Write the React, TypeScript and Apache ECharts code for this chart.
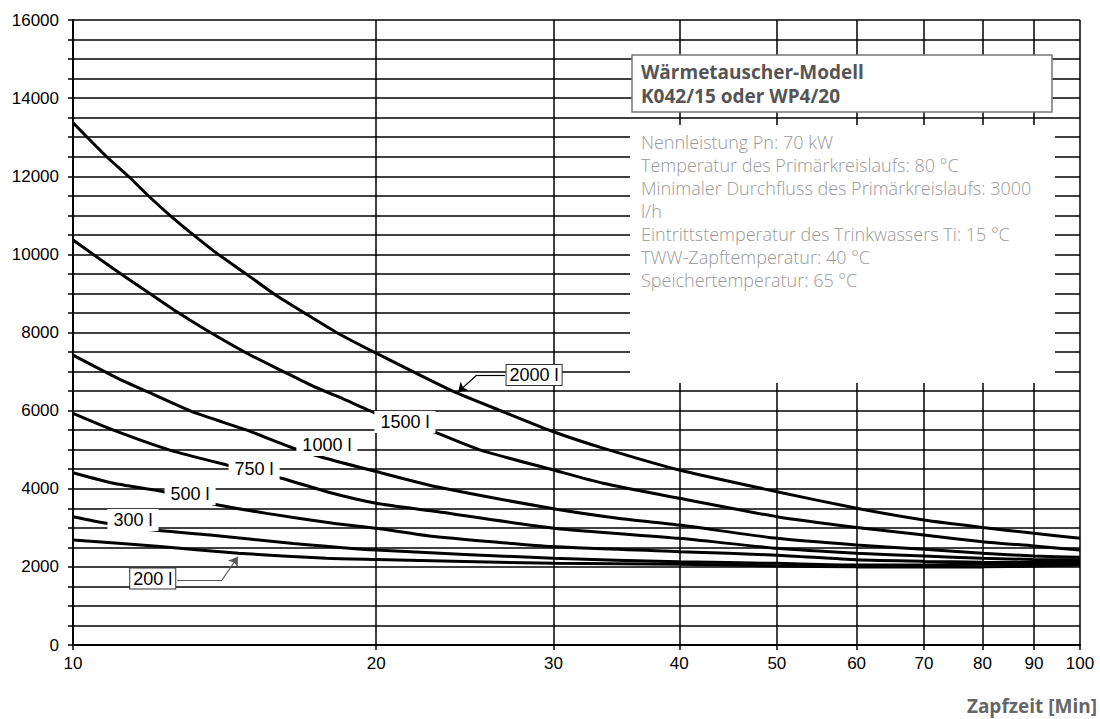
import React, { useEffect, useRef } from "react";
import * as echarts from "echarts";

// ---- data ----
const xTicks = [10, 20, 30, 40, 50, 60, 70, 80, 90, 100];
const yMin = 0;
const yMax = 16000;

const curve2000 = [[10,13370],[10.8,12500],[11.35,12000],[11.88,11500],[12.48,11000],[13.17,10500],[13.94,10000],[14.82,9520],[15.81,9000],[17,8490],[18.27,8000],[20,7470],[23.86,6490],[26.75,5970],[30,5460],[33.6,5040],[40,4480],[50,3925],[60,3500],[70,3200],[80,3010],[90,2860],[100,2730]];
const curve1500 = [[10,10370],[10.97,9630],[11.84,9050],[12.68,8530],[13.47,8110],[14.88,7470],[16.18,7000],[17.33,6620],[18.55,6300],[20,5930],[22.6,5500],[25.4,4990],[30,4480],[33.6,4140],[40,3755],[50,3285],[60,3010],[70,2815],[80,2645],[90,2535],[100,2430]];
const curve1000 = [[10,7420],[11.13,6800],[11.84,6490],[13.17,5960],[14.88,5500],[16.55,5040],[17.6,4820],[20,4440],[22.96,4050],[30,3490],[34.9,3240],[40,3070],[50,2730],[60,2560],[70,2450],[80,2350],[90,2280],[100,2245]];
const curve750 = [[10,5930],[10.97,5500],[12.48,4990],[14.21,4610],[16.11,4270],[17.86,3925],[20,3630],[22.96,3415],[30,2990],[40,2730],[50,2475],[60,2350],[70,2280],[80,2220],[90,2190],[100,2180]];
const curve500 = [[10,4410],[10.97,4140],[12.29,3925],[13.78,3610],[15.57,3370],[18.13,3115],[20,2990],[22.96,2770],[30,2520],[40,2390],[50,2300],[60,2180],[70,2140],[80,2120],[90,2110],[100,2110]];
const curve300 = [[10,3285],[10.8,3115],[11.75,2970],[13.68,2815],[16.55,2600],[20,2430],[30,2220],[40,2130],[50,2090],[60,2050],[70,2050],[80,2070],[90,2070],[100,2090]];
const curve200 = [[10,2690],[12.2,2520],[14.6,2350],[17.86,2220],[20,2190],[30,2090],[40,2070],[50,2020],[60,2000],[70,2000],[80,2000],[90,2020],[100,2050]];

const seriesNames = ["2000 l", "1500 l", "1000 l", "750 l", "500 l", "300 l", "200 l"];
const seriesData = [curve2000, curve1500, curve1000, curve750, curve500, curve300, curve200];

// label anchor positions (data coords) and whether boxed
const labelCoords = [[28.7, 6912], [21.36, 5710], [17.87, 5120], [15.13, 4505], [13.07, 3866], [11.47, 3200], [12.0, 1702]];
const labelBoxed = [true, false, false, false, false, false, true];

// leader lines (data coords): polyline with arrow at last point
const leader2000 = [[26.85, 6912], [25.18, 6912], [24.12, 6477]];
const leader200 = [[12.69, 1664], [14.06, 1664], [14.58, 2260]];

const titleLines = ["Wärmetauscher-Modell", "K042/15 oder WP4/20"];
const infoLines = [
  "Nennleistung Pn: 70 kW",
  "Temperatur des Primärkreislaufs: 80 °C",
  "Minimaler Durchfluss des Primärkreislaufs: 3000",
  "l/h",
  "Eintrittstemperatur des Trinkwassers Ti: 15 °C",
  "TWW-Zapftemperatur: 40 °C",
  "Speichertemperatur: 65 °C",
];
const xAxisTitle = "Zapfzeit [Min]";

function leaderLines(pts: number[][], color: string) {
  const segs: any[] = [];
  for (let i = 0; i < pts.length - 1; i++) {
    const last = i === pts.length - 2;
    segs.push([
      { coord: pts[i], symbol: "none" },
      { coord: pts[i + 1], symbol: last ? "arrow" : "none", symbolSize: last ? 9 : 0 },
    ]);
  }
  return {
    silent: true,
    symbol: ["none", "none"],
    label: { show: false },
    lineStyle: { color, width: 1.2, type: "solid" },
    emphasis: { disabled: true },
    data: segs,
  };
}

export default function App() {
  const ref = useRef<HTMLDivElement>(null);
  useEffect(() => {
    if (!ref.current) return;
    const chart = echarts.init(ref.current, undefined, { renderer: "svg" });
    const axisFont = { fontFamily: "Liberation Sans, Arial, sans-serif", fontSize: 17, color: "#000" };
    const series: any[] = seriesNames.map((name, i) => {
      const s: any = {
        name,
        type: "line",
        data: seriesData[i],
        showSymbol: false,
        smooth: 0.2,
        z: 3,
        lineStyle: { color: "#000", width: 3 },
        markPoint: {
          silent: true,
          symbol: "circle",
          symbolSize: 0,
          data: [{ coord: labelCoords[i], value: name }],
          label: {
            show: true,
            position: "inside",
            formatter: name,
            fontFamily: "Liberation Sans, Arial, sans-serif",
            fontSize: 18,
            color: "#000",
            backgroundColor: "#fff",
            borderColor: labelBoxed[i] ? "#333" : "transparent",
            borderWidth: labelBoxed[i] ? 1 : 0,
            padding: labelBoxed[i] ? [1, 3] : [2, 6],
          },
        },
      };
      if (i === 0) s.markLine = leaderLines(leader2000, "#000");
      if (i === 6) s.markLine = leaderLines(leader200, "#555");
      return s;
    });

    chart.setOption({
      animation: false,
      grid: { left: 73, right: 20, top: 20, bottom: 74, containLabel: false },
      xAxis: {
        type: "log",
        logBase: 10,
        min: 10,
        max: 100,
        axisLine: { show: true, lineStyle: { color: "#000", width: 2 } },
        axisTick: { show: true, length: 5, customValues: xTicks, lineStyle: { color: "#000", width: 1.5 } },
        axisLabel: { ...axisFont, margin: 10, customValues: xTicks, formatter: (v: number) => String(Math.round(v)) },
        splitLine: { show: true, lineStyle: { color: "#000", width: 1.5 } },
        minorTick: { show: false },
        minorSplitLine: { show: false },
      },
      yAxis: {
        type: "value",
        min: yMin,
        max: yMax,
        interval: 2000,
        axisLine: { show: true, lineStyle: { color: "#000", width: 2 } },
        axisTick: { show: true, length: 5, lineStyle: { color: "#000", width: 1.5 } },
        minorTick: { show: true, splitNumber: 4, length: 5, lineStyle: { color: "#000", width: 1.5 } },
        axisLabel: { ...axisFont, margin: 14, formatter: (v: number) => String(v) },
        splitLine: { show: true, lineStyle: { color: "#000", width: 1.5 } },
        minorSplitLine: { show: true, lineStyle: { color: "#000", width: 1.5 } },
      },
      series,
      graphic: [
        {
          type: "rect",
          z: 10,
          shape: { x: 630, y: 125, width: 425, height: 258 },
          style: { fill: "#fff" },
        },
        {
          type: "rect",
          z: 10,
          shape: { x: 632, y: 55, width: 420, height: 57 },
          style: { fill: "#fff", stroke: "#777", lineWidth: 1.5 },
        },
        {
          type: "text",
          z: 11,
          x: 641,
          y: 62,
          style: {
            text: titleLines[0],
            fontFamily: "Open Sans, Lato, sans-serif",
            fontWeight: "bold",
            fontSize: 19,
            fill: "#555",
          },
        },
        {
          type: "text",
          z: 11,
          x: 641,
          y: 86,
          style: {
            text: titleLines[1],
            fontFamily: "Open Sans, Lato, sans-serif",
            fontWeight: "bold",
            fontSize: 19,
            fill: "#555",
          },
        },
        {
          type: "text",
          z: 11,
          x: 641,
          y: 130,
          style: {
            text: infoLines.join("\n"),
            fontFamily: "Open Sans, Lato, sans-serif",
            fontWeight: 300,
            fontSize: 18,
            lineHeight: 23,
            fill: "#999",
          },
        },
        {
          type: "text",
          z: 11,
          x: 1097,
          y: 696,
          style: {
            text: xAxisTitle,
            align: "right",
            fontFamily: "Open Sans, Lato, sans-serif",
            fontWeight: "bold",
            fontSize: 19,
            fill: "#666",
          },
        },
      ],
    });
    return () => chart.dispose();
  }, []);
  return <div ref={ref} style={{ position: "absolute", left: 0, top: 0, width: 1100, height: 719 }} />;
}
